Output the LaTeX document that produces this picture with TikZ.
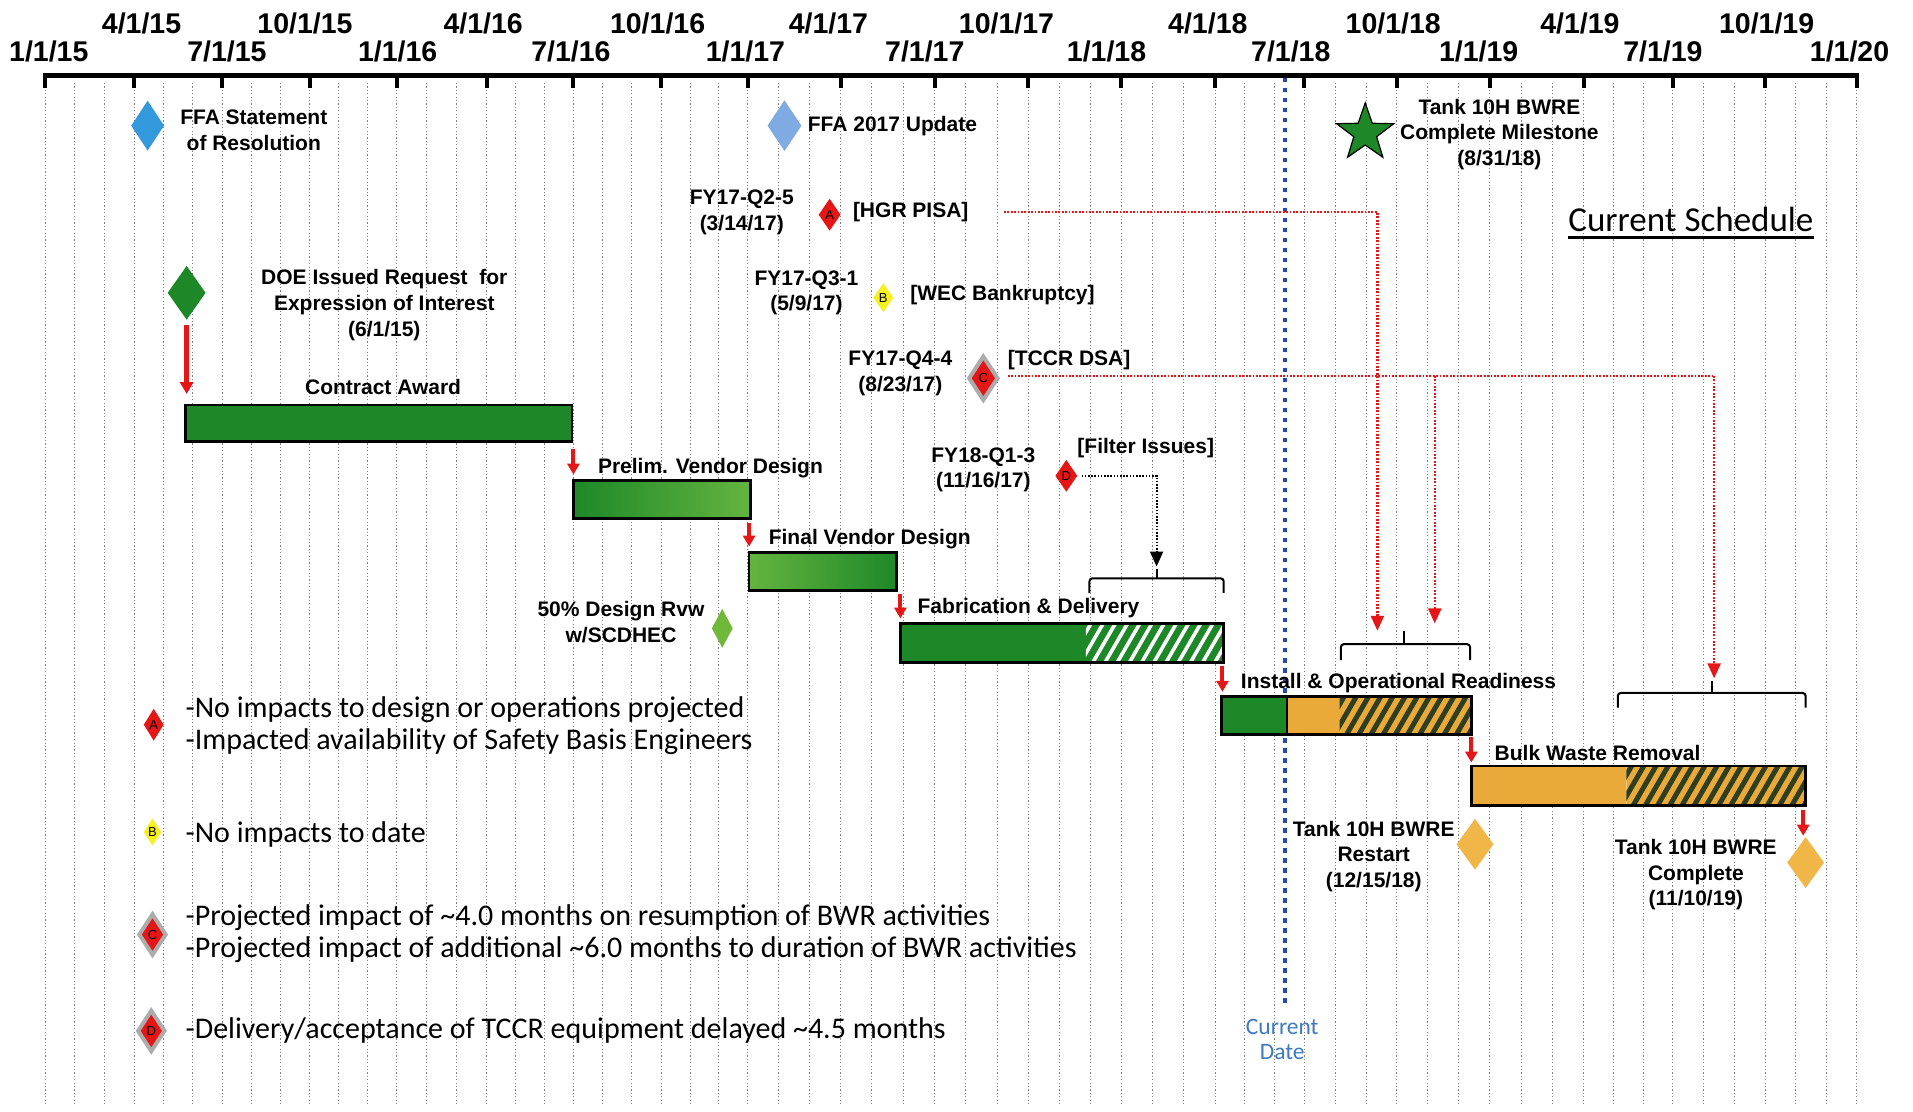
\documentclass[tikz,border=0pt]{standalone}
\usepackage{fontspec}
\setmainfont{Liberation Sans}
\newfontfamily\legfont{Carlito}
\usetikzlibrary{shapes.geometric,arrows.meta}
\definecolor{gmain}{RGB}{30,136,40}
\definecolor{glight}{RGB}{100,180,64}
\definecolor{borange}{RGB}{234,170,58}
\definecolor{dorange}{RGB}{241,182,72}
\definecolor{dstripe}{RGB}{48,62,32}
\definecolor{ffablue}{RGB}{52,152,220}
\definecolor{ffalight}{RGB}{128,170,226}
\definecolor{redc}{RGB}{228,22,22}
\definecolor{yelc}{RGB}{246,240,30}
\definecolor{lgreen}{RGB}{112,184,58}
\definecolor{cdblue}{RGB}{38,72,180}
\definecolor{cdtext}{RGB}{62,122,192}
\definecolor{grayb}{RGB}{172,172,172}
\tikzset{
  gridln/.style={draw=black!50, line width=1pt, dash pattern=on 1.2pt off 2.2pt},
  lbl/.style={font=\bfseries\fontsize{21}{25.6}\selectfont, inner sep=0pt, align=center},
  axl/.style={font=\bfseries\fontsize{28.5}{30}\selectfont, inner sep=0pt},
  legtxt/.style={font=\legfont\fontsize{30}{32}\selectfont, inner sep=0pt, anchor=west},
  barbox/.style={draw=black, line width=2.6pt},
  redarr/.style={draw=redc, line width=4pt, -{Triangle[length=11pt,width=12pt]}},
  reddot/.style={draw=redc, line width=2.4pt, dash pattern=on 1.8pt off 1.6pt},
  redhead/.style={-{Triangle[length=15pt,width=13pt,fill=redc]}},
  dmd/.style={diamond, inner sep=0pt, font=\fontsize{13}{13}\selectfont},
  graydmd/.style={dmd, fill=redc, draw=grayb, line width=4pt},
  bracebox/.style={draw=black, line width=2pt, rounded corners=3pt},
}
\newcommand\hatchbox[7]{%
  \begin{scope}
    \clip (#1,#2) rectangle (#3,#4);
    \fill[#5] (#1,#2) rectangle (#3,#4);
    \foreach \k in {-4,...,17} \draw[#6, line width=#7] ({#1+\k*10-6},{#4+3}) -- ++(22,-38);
  \end{scope}}
\begin{document}
\begin{tikzpicture}[x=1.22pt,y=-1.22pt]
\useasboundingbox (0,0) rectangle (1568,911);
\fill[white] (0,0) rectangle (1568,911);

% monthly grid lines
\foreach \gx in {37,61.3,85.7,110,134,158,182,206,230,254,277.7,301.3,325,349.7,374.3,399,422.7,446.3,470,494,518,542,565.7,589.3,613,638.3,663.7,689,714.7,740.3,766,791.7,817.3,843,868.3,893.7,919,944.7,970.3,996,1020.3,1044.7,1069,1094.3,1119.7,1145,1170.3,1195.7,1221,1246.7,1272.3,1298,1322.3,1346.7,1371,1396.3,1421.7,1447,1472,1497,1522}
  \draw[gridln] (\gx,68) -- (\gx,906);

% current date line
\coordinate (cdtop) at (1053,64);
\coordinate (cdbot) at (1053,826);
\draw[cdblue, line width=4.4pt, dash pattern=on 4.4pt off 5.6pt] (cdtop) -- (cdbot);
\node[font=\legfont\fontsize{23.5}{25.6}\selectfont, text=cdtext, align=center, inner sep=0pt] (cdlabel) at (1051,852) {Current\\Date};

% axis
\draw[line width=5pt] (35.5,62) -- (1523.5,62);
\foreach \tx in {37,110,182,254,325,399,470,542,613,689,766,843,919,996,1069,1145,1221,1298,1371,1447,1522}
  \draw[line width=4pt] (\tx,62) -- (\tx,72);

% axis labels
\node[axl] (t1) at (40,42) {1/1/15};
\node[axl] (t2) at (116,19) {4/1/15};
\node[axl] (t3) at (186,42) {7/1/15};
\node[axl] (t4) at (250,19) {10/1/15};
\node[axl] (t5) at (326,42) {1/1/16};
\node[axl] (t6) at (396,19) {4/1/16};
\node[axl] (t7) at (468,42) {7/1/16};
\node[axl] (t8) at (539,19) {10/1/16};
\node[axl] (t9) at (611,42) {1/1/17};
\node[axl] (t10) at (679,19) {4/1/17};
\node[axl] (t11) at (758,42) {7/1/17};
\node[axl] (t12) at (825,19) {10/1/17};
\node[axl] (t13) at (907,42) {1/1/18};
\node[axl] (t14) at (990,19) {4/1/18};
\node[axl] (t15) at (1058,42) {7/1/18};
\node[axl] (t16) at (1142,19) {10/1/18};
\node[axl] (t17) at (1212,42) {1/1/19};
\node[axl] (t18) at (1295,19) {4/1/19};
\node[axl] (t19) at (1363,42) {7/1/19};
\node[axl] (t20) at (1448,19) {10/1/19};
\node[axl] (t21) at (1516,42) {1/1/20};

% FFA milestones
\node[dmd, fill=ffablue, minimum width=33pt, minimum height=50pt] (ffa) at (121,103) {};
\node[lbl] (ffatxt) at (208,107) {FFA Statement\\of Resolution};
\node[dmd, fill=ffalight, minimum width=34pt, minimum height=51pt] (ffa17) at (643,103) {};
\node[lbl, anchor=west] (ffa17txt) at (662,103) {FFA 2017 Update};

% star milestone
\node[star, star points=5, star point ratio=2.5, fill=gmain, draw=black, line width=1.2pt, minimum size=60pt, inner sep=0pt] (star) at (1119,109) {};
\node[lbl] (startxt) at (1229,110) {Tank 10H BWRE\\Complete Milestone\\(8/31/18)};

% Current Schedule
\node[font=\legfont\fontsize{35}{38}\selectfont, inner sep=0pt] (cs) at (1386,180) {Current Schedule};
\draw[line width=2.6pt] ([yshift=-6pt]cs.base west) -- ([yshift=-6pt]cs.base east);

% issue A
\node[lbl] (qa) at (608,174) {FY17-Q2-5\\(3/14/17)};
\node[dmd, fill=redc, minimum width=22pt, minimum height=32pt] (da) at (680,176) {A};
\node[lbl, anchor=west] (hgr) at (699,174) {[HGR PISA]};
% issue B
\node[lbl] (qb) at (661,240) {FY17-Q3-1\\(5/9/17)};
\node[dmd, fill=yelc, minimum width=20pt, minimum height=29pt] (db) at (724,244) {B};
\node[lbl, anchor=west] (wec) at (746,242) {[WEC Bankruptcy]};
% issue C
\node[lbl] (qc) at (738,306) {FY17-Q4-4\\(8/23/17)};
\node[graydmd, minimum width=30pt, minimum height=45pt] (dc) at (806,310) {C};
\node[lbl, anchor=west] (tccr) at (826,295) {[TCCR DSA]};
% issue D
\node[lbl] (qd) at (806,385) {FY18-Q1-3\\(11/16/17)};
\node[dmd, fill=redc, minimum width=22pt, minimum height=32pt] (dd) at (874,390) {D};
\node[lbl, anchor=west] (filt) at (883,367) {[Filter Issues]};

% DOE milestone
\node[dmd, fill=gmain, minimum width=38pt, minimum height=54pt] (doe) at (153,240) {};
\node[lbl] (doetxt) at (315,250) {DOE Issued Request\ \ for\\Expression of Interest\\(6/1/15)};

% bars
\coordinate (cab) at (153,323);
\draw[redarr, line width=4.4pt, -{Triangle[length=12pt,width=13pt]}] ([yshift=-5pt]doe.south) -- (cab);
\node[lbl] (catxt) at (314,317) {Contract Award};
\draw[barbox, fill=gmain] (152,332) rectangle (469,362);

\coordinate (a1s) at (470,368); \coordinate (a1e) at (470,389);
\draw[redarr] (a1s) -- (a1e);
\node[lbl, anchor=west] (pvd) at (490,384) {Prelim. Vendor Design};
\shade[left color=gmain, right color=glight] (470,394) rectangle (615,425);
\draw[barbox] (470,394) rectangle (615,425);

\coordinate (a2s) at (614,429); \coordinate (a2e) at (614,448);
\draw[redarr] (a2s) -- (a2e);
\node[lbl, anchor=west] (fvd) at (630,442) {Final Vendor Design};
\shade[left color=glight, right color=gmain] (614,453) rectangle (735,484);
\draw[barbox] (614,453) rectangle (735,484);

\node[lbl] (dr50) at (509,510) {50\% Design Rvw\\w/SCDHEC};
\node[dmd, fill=lgreen, minimum width=21pt, minimum height=39pt] (d50) at (592,515) {};

\coordinate (a3s) at (738,487); \coordinate (a3e) at (738,507);
\draw[redarr] (a3s) -- (a3e);
\node[lbl, anchor=west] (fab) at (752,498) {Fabrication \& Delivery};
\fill[gmain] (738,511) rectangle (890,543);
\hatchbox{890}{511}{1003}{543}{gmain}{white}{3.6pt}
\draw[barbox] (738,511) rectangle (1003,543);

\coordinate (a4s) at (1002,546); \coordinate (a4e) at (1002,567);
\draw[redarr] (a4s) -- (a4e);
\node[lbl, anchor=west] (inst) at (1017,560) {Install \& Operational Readiness};
\fill[gmain] (1001,571) rectangle (1055,602);
\fill[borange] (1055,571) rectangle (1098,602);
\hatchbox{1098}{571}{1206}{602}{borange}{dstripe}{5pt}
\draw[line width=2pt] (1055,571) -- (1055,602);
\draw[barbox] (1001,571) rectangle (1206,602);

\coordinate (a5s) at (1206,604); \coordinate (a5e) at (1206,625);
\draw[redarr] (a5s) -- (a5e);
\node[lbl, anchor=west] (bwr) at (1225,617) {Bulk Waste Removal};
\fill[borange] (1206,628) rectangle (1333,660);
\hatchbox{1333}{628}{1480}{660}{borange}{dstripe}{5pt}
\draw[barbox] (1206,628) rectangle (1480,660);

\coordinate (a6s) at (1478,664); \coordinate (a6e) at (1478,685);
\draw[redarr] (a6s) -- (a6e);

% end milestones
\node[lbl] (rst) at (1126,702) {Tank 10H BWRE\\Restart\\(12/15/18)};
\node[dmd, fill=dorange, minimum width=37pt, minimum height=51pt] (drst) at (1209,692) {};
\node[lbl] (cmp) at (1390,717) {Tank 10H BWRE\\Complete\\(11/10/19)};
\node[dmd, fill=dorange, minimum width=37pt, minimum height=51pt] (dcmp) at (1480,707) {};

% braces
\draw[bracebox] (893,486) -- (893,474) -- (1003,474) -- (1003,486);
\coordinate (bfab) at (948,466);
\draw[line width=2pt] (948,474) -- (bfab);
\draw[bracebox] (1099,541) -- (1099,528) -- (1205,528) -- (1205,541);
\coordinate (binst) at (1151,517);
\draw[line width=2pt] (1151,528) -- (binst);
\draw[bracebox] (1326,580) -- (1326,568) -- (1480,568) -- (1480,580);
\coordinate (bbwr) at (1403,558);
\draw[line width=2pt] (1403,568) -- (bbwr);

% impact connectors
\coordinate (ha) at (823,174);
\coordinate (ta) at (1129,517);
\draw[reddot, redhead] (ha) -| (ta);
\coordinate (hc) at (826,308);
\coordinate (tc1) at (1176,511);
\coordinate (tc2) at (1405,556);
\draw[reddot] (hc) -- (1405,308);
\draw[reddot, redhead] (1176,308) -- (tc1);
\draw[reddot, redhead] (1405,308) -- (tc2);
\draw[draw=black, line width=2pt, dash pattern=on 1.6pt off 1.6pt, -{Triangle[length=15pt,width=13pt,fill=black]}] ([xshift=4pt]dd.east) -| ([yshift=2pt]bfab);

% legend
\node[dmd, fill=redc, minimum width=20pt, minimum height=32pt] (la) at (126,594) {A};
\node[legtxt] (la1) at (152,582) {-No impacts to design or operations projected};
\node[legtxt] (la2) at (152,608) {-Impacted availability of Safety Basis Engineers};
\node[dmd, fill=yelc, minimum width=17pt, minimum height=27pt] (lb) at (125,682) {B};
\node[legtxt] (lb1) at (152,684) {-No impacts to date};
\node[graydmd, minimum width=28pt, minimum height=42pt] (lc) at (125,766) {C};
\node[legtxt] (lc1) at (152,752) {-Projected impact of \textasciitilde4.0 months on resumption of BWR activities};
\node[legtxt] (lc2) at (152,778) {-Projected impact of additional \textasciitilde6.0 months to duration of BWR activities};
\node[graydmd, minimum width=28pt, minimum height=42pt] (ld) at (124,845) {D};
\node[legtxt] (ld1) at (152,845) {-Delivery/acceptance of TCCR equipment delayed \textasciitilde4.5 months};
\end{tikzpicture}
\end{document}
